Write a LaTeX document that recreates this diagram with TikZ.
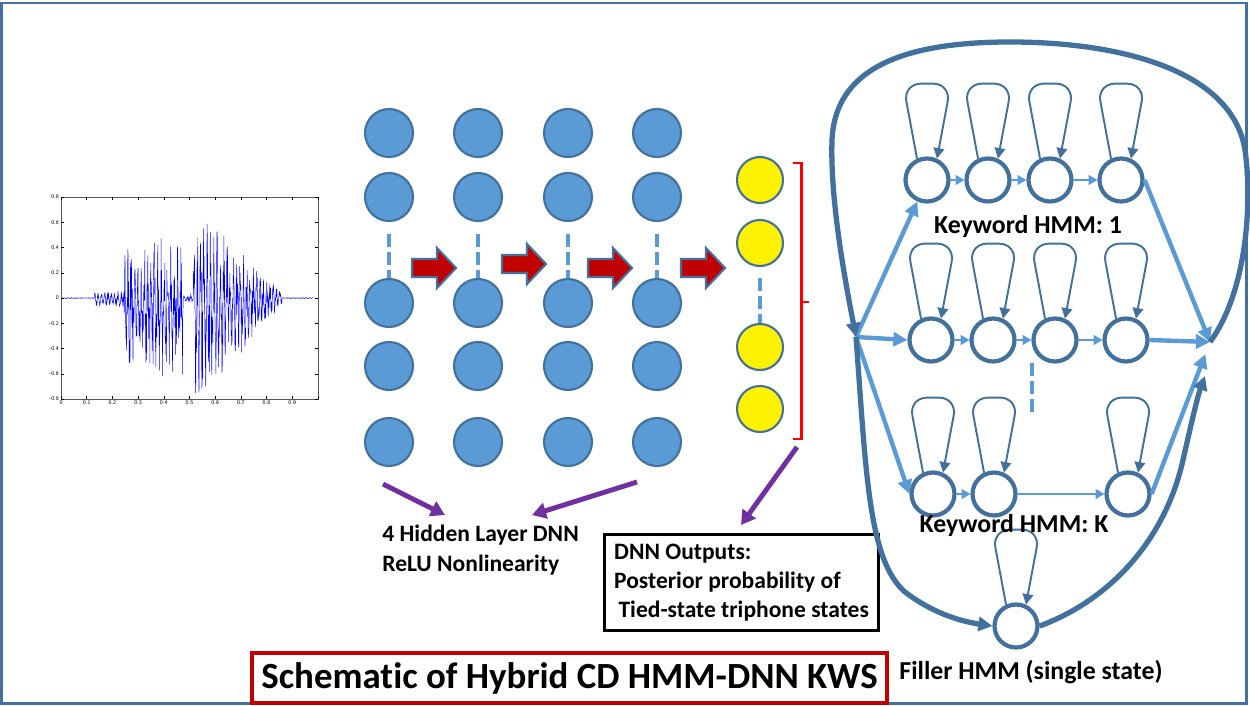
\documentclass[tikz,border=0pt]{standalone}
\usepackage{fontspec}
\setmainfont[Ligatures=NoCommon]{Carlito}
\usepackage{xcolor}
\usetikzlibrary{arrows.meta,positioning}

\definecolor{nodeblue}{HTML}{5B9BD5}
\definecolor{edgeblue}{HTML}{41719C}
\definecolor{darkred}{HTML}{C00000}
\definecolor{ptrpurple}{HTML}{7030A0}

\begin{document}
\begin{tikzpicture}[x=0.02cm, y=-0.02cm,
    hid/.style={circle, fill=nodeblue, draw=edgeblue, line width=1.2pt, minimum size=0.96cm, inner sep=0},
    outn/.style={circle, fill=yellow, draw=edgeblue, line width=1.2pt, minimum size=0.92cm, inner sep=0},
    hmm/.style={circle, draw=edgeblue, fill=white, line width=2.4pt, minimum size=0.86cm, inner sep=0},
    selfloop/.style={draw=edgeblue, line width=1.1pt, rounded corners=0.36cm, -{Triangle[length=6pt,width=6pt]}},
    trans/.style={draw=nodeblue, line width=1.7pt, -{Triangle[length=5pt,width=5.5pt]}},
    entry/.style={draw=nodeblue, line width=2.5pt, -{Triangle[length=8pt,width=8pt]}},
    bigloop/.style={draw=edgeblue, line width=3pt, -{Triangle[length=8pt,width=8pt]}},
    dots/.style={draw=nodeblue, line width=1.8pt, dash pattern=on 7.5pt off 2.8pt},
    pointer/.style={draw=ptrpurple, line width=2.8pt, -{Triangle[length=8pt,width=9pt]}},
    blk/.style={fill=darkred, draw=edgeblue, line width=1.2pt, line join=miter},
    lbl/.style={font=\bfseries\fontsize{14.7}{17}\selectfont},
    txt/.style={font=\bfseries\fontsize{13.4}{16.7}\selectfont, align=left},
    declare function={
      env(\t)=(\t<0.13) ? 0.004 : ((\t<0.245) ? 0.06 : ((\t<0.475) ? 0.56 :
              ((\t<0.515) ? 0.03 : ((\t<0.86) ? (0.85-2.3*(\t-0.515)) : 0.004))));
      wav(\t)=env(\t)*(0.5*sin(mod(\t*2800,36)*10)+0.5*(2*rnd-1)-0.12);
    }]

\useasboundingbox (0,0) rectangle (1250,706);
\fill[white] (0,0) rectangle (1250,706);
\draw[edgeblue, line width=1.7pt] (1.5,3) rectangle (1246,703);

% speech waveform
\begin{scope}[shift={(61,298)}, x=5.14cm, y=2.525cm]
  \pgfmathsetseed{11}
  \draw[blue, line width=0.25pt] plot[domain=0:0.98, samples=1000, variable=\t] (\t, {wav(\t)});
  \draw[gray!70!black, line width=0.3pt] (0,-0.8) rectangle (1,0.8);
  \foreach \v in {-0.8,-0.6,-0.4,-0.2,0,0.2,0.4,0.6,0.8} {
    \draw[line width=0.25pt] (0,\v) -- ++(0.012,0) (1,\v) -- ++(-0.012,0);
    \node[anchor=east, inner sep=1pt, font=\sffamily\fontsize{3.2}{3.5}\selectfont] at (0,\v) {\v};
  }
  \foreach \v in {0,0.1,0.2,0.3,0.4,0.5,0.6,0.7,0.8,0.9,1} {
    \draw[line width=0.25pt] (\v,-0.8) -- ++(0,0.02) (\v,0.8) -- ++(0,-0.02);
  }
  \foreach \v in {0,0.1,0.2,0.3,0.4,0.5,0.6,0.7,0.8,0.9}
    \node[anchor=north, inner sep=1pt, font=\sffamily\fontsize{3.2}{3.5}\selectfont] at (\v,-0.8) {\v};
\end{scope}

% hidden layers
\foreach \c/\x in {1/389,2/478,3/568,4/657} {
  \foreach \r/\y in {1/133,2/197,3/303,4/366,5/442}
    \node[hid] (h\c\r) at (\x,\y) {};
  \draw[dots] ([yshift=-0.24cm]h\c2.south) -- (h\c3.north);
}
% output layer
\foreach \r/\y in {1/180,2/243,3/347,4/409}
  \node[outn] (o\r) at (760,\y) {};
\draw[dots] ([yshift=-0.22cm]o2.south) -- (o3.north);
\draw[red, line width=1.7pt] (793,163) -- (801,163) -- (801,439) -- (793,439);
\draw[red, line width=1.7pt] (801,302) -- (809,302);

% block arrows between layers
\foreach \xa/\ya in {412/268, 502/264, 588/268, 681/268}
  \draw[blk] (\xa,\ya-9) -- ++(25,0) -- ++(0,-11) -- ++(19,20) -- ++(-19,20) -- ++(0,-11) -- ++(-25,0) -- cycle;

% labels below the DNN
\node[txt, anchor=north west, inner sep=0] (dnnlbl) at (382,525) {4 Hidden Layer DNN\\ReLU Nonlinearity};
\node[txt, draw=black, line width=1.7pt, minimum width=5.48cm, minimum height=1.92cm, inner sep=2pt] (outbox) at (741.5,582.5)
  {DNN Outputs:\\Posterior probability of\\\hspace{2.5pt}Tied-state triphone states};
\coordinate (p1) at (383,484);
\coordinate (p2) at (637,482);
\coordinate (p3) at (797,447);
\draw[pointer] (p1) -- (445,515);
\draw[pointer] (p2) -- (532,515);
\draw[pointer] (p3) -- (741,525);

\node[draw=darkred, line width=2.3pt, minimum width=12.7cm, minimum height=1.0cm, font=\bfseries\fontsize{21}{24}\selectfont] (title) at (569.5,678)
  {Schematic of Hybrid CD HMM-DNN KWS};

% keyword and filler HMMs
\foreach \x [count=\i] in {927,988,1050,1121} \node[hmm] (k1\i) at (\x,180) {};
\foreach \x [count=\i] in {931,993,1055,1126} \node[hmm] (k2\i) at (\x,340) {};
\foreach \x [count=\i] in {933,994,1128} \node[hmm] (kK\i) at (\x,494) {};
\node[hmm] (filler) at (1016,626) {};

\foreach \n in {k11,k12,k13,k14,k21,k22,k23,k24,kK1,kK2,kK3,filler}
  \draw[selfloop] (\n.115) -- ++(-14,-75) -- ++(48,0) -- (\n.65);

\foreach \a/\b in {k11/k12,k12/k13,k13/k14,k21/k22,k22/k23,k23/k24,kK1/kK2,kK2/kK3}
  \draw[trans] (\a) -- (\b);
\draw[dots] (1032,363) -- (1032,412);

\coordinate (S) at (856,337);
\coordinate (E) at (1210,342);
\coordinate (Ein) at (1205,376);

\draw[entry] (S) -- (k11);
\draw[entry] (S) -- (k21.west);
\draw[entry] (S) -- (kK1.west);
\draw[entry] (k14.east) -- (E);
\draw[entry] (k24.east) -- (E);
\draw[entry, shorten >=0.26cm] (kK3.east) -- (E);

\draw[bigloop] (E) .. controls (1248,290) and (1252,200) .. (1245,150) .. controls (1232,70) and (1120,42) .. (1010,42)
  .. controls (900,42) and (835,70) .. (832,140) .. controls (830,200) and (845,280) .. (S);
\draw[bigloop] (S) .. controls (866,470) and (868,560) .. (905,592) .. controls (935,615) and (965,622) .. (filler.west);
\draw[bigloop] (filler.east) .. controls (1110,600) and (1165,540) .. (1183,460) .. controls (1192,420) and (1198,395) .. (Ein);

\node[lbl] (kw1) at (1028,226) {Keyword HMM: 1};
\node[lbl] (kwK) at (1014,525) {Keyword HMM: K};
\node[lbl] (fl) at (1031,672) {Filler HMM (single state)};
\end{tikzpicture}
\end{document}
